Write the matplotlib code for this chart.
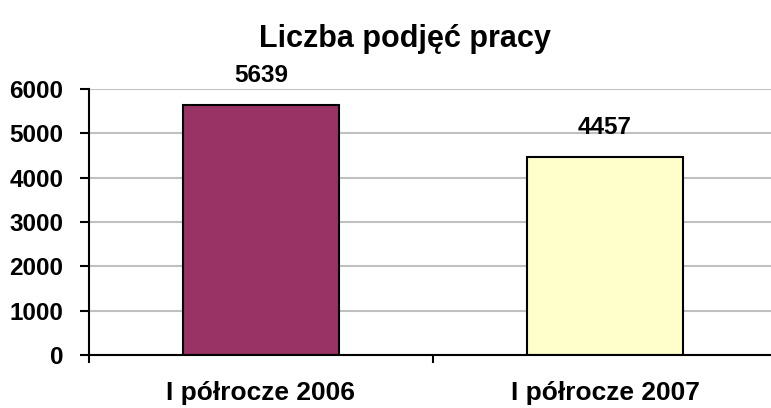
import matplotlib
matplotlib.use("Agg")
import matplotlib.pyplot as plt

categories = ["I półrocze 2006", "I półrocze 2007"]
values = [5639, 4457]
colors = ["#993366", "#FFFFCC"]
yticks = [0, 1000, 2000, 3000, 4000, 5000, 6000]
title = "Liczba podjęć pracy"

plt.rcParams['font.family'] = ['Liberation Sans', 'DejaVu Sans']
plt.rcParams['font.weight'] = 'bold'

dpi = 100
fig = plt.figure(figsize=(7.71, 4.08), dpi=dpi)
ax = fig.add_axes([89/771, 1-355/408, (777-89)/771, (355-89)/408])

x = list(range(len(categories)))
bars = ax.bar(x, values, width=0.456, color=colors, edgecolor='black', linewidth=1.5, zorder=3)
ax.set_xlim(-0.5, 1.5)
ax.set_ylim(0, 6000)
ax.set_yticks(yticks)
ax.set_yticklabels([str(t) for t in yticks], fontsize=17.5, fontweight='bold')

ax.set_xticks([-0.5, 0.5, 1.5], minor=False)
ax.set_xticklabels([])
ax.set_xticks(x, minor=True)
ax.set_xticklabels(categories, minor=True, fontsize=19, fontweight='bold')
ax.tick_params(axis='x', which='minor', length=0, pad=19)
ax.tick_params(axis='x', which='major', length=6, width=1.5, direction='out')
ax.tick_params(axis='y', length=6.5, width=1.5, direction='out', pad=12)

ax.grid(axis='y', color='#c0c0c0', linewidth=1.5, zorder=0)
for s in ['top', 'right']:
    ax.spines[s].set_visible(False)
for s in ['left', 'bottom']:
    ax.spines[s].set_linewidth(1.5)
    ax.spines[s].set_zorder(4)

for b, v in zip(bars, values):
    ax.annotate(str(v), (b.get_x() + b.get_width()/2, v), xytext=(0, 13),
                textcoords='offset points', ha='center', va='bottom',
                fontsize=17.5, fontweight='bold')

fig.text(405/771, 1-47/408, title, ha='center', va='baseline', fontsize=22, fontweight='bold')

fig.savefig("out.png", dpi=dpi)
